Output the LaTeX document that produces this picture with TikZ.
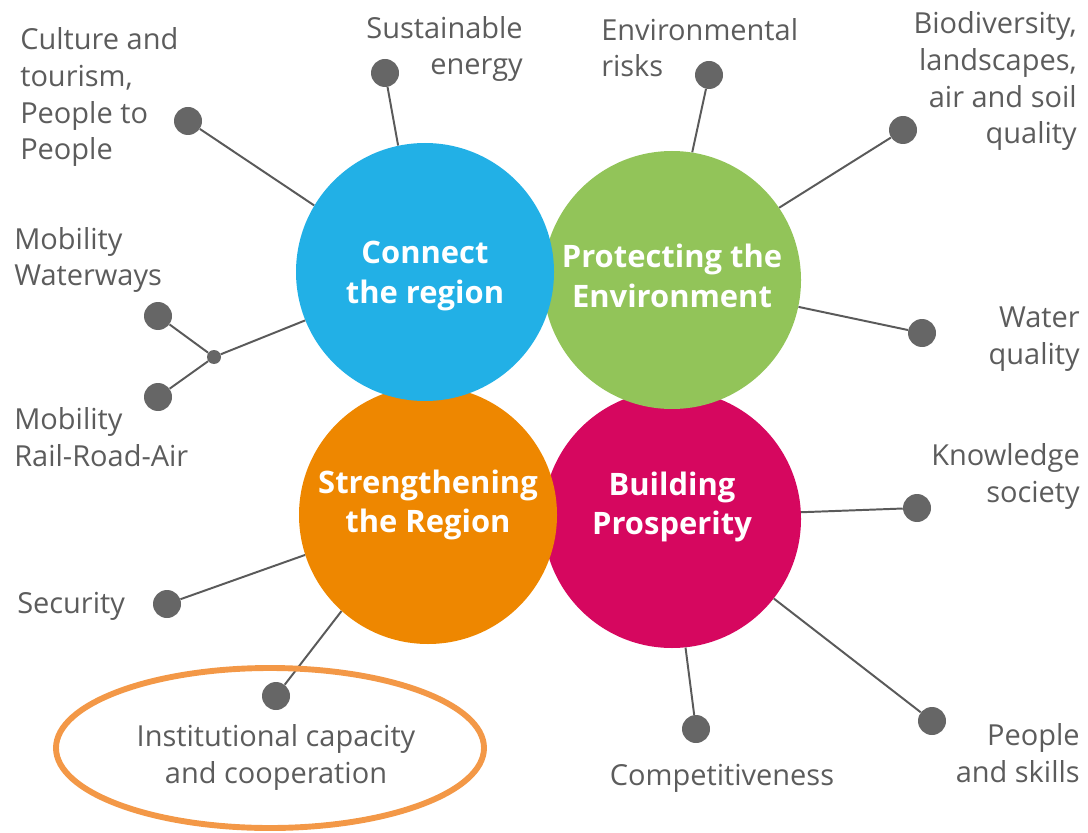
\documentclass[tikz,border=0pt]{standalone}
\usepackage{fontspec}
\setmainfont{Open Sans}
\usepackage{xcolor}
\usepackage{tikz}

\definecolor{connectblue}{HTML}{22B0E6}
\definecolor{envgreen}{HTML}{92C459}
\definecolor{regionorange}{HTML}{EE8700}
\definecolor{prosperpink}{HTML}{D6075F}
\definecolor{dotgray}{HTML}{666666}
\definecolor{linegray}{HTML}{5A5A5A}
\definecolor{labelgray}{HTML}{5C5C5C}
\definecolor{ringorange}{HTML}{F39847}

\tikzset{
  pillar/.style={circle, minimum size=6.45cm, inner sep=0pt},
  pillartext/.style={text=white, font=\fontsize{22}{28.3}\selectfont\bfseries, align=center, inner sep=0pt},
  topicdot/.style={circle, fill=dotgray, minimum size=0.7cm, inner sep=0pt},
  joint/.style={circle, fill=dotgray, minimum size=0.35cm, inner sep=0pt},
  topic/.style={text=labelgray, font=\fontsize{20.6}{26.3}\selectfont, inner sep=0pt},
  link/.style={linegray, line width=1.4pt},
}

\begin{document}
\begin{tikzpicture}
            \useasboundingbox (0,0) rectangle (27.2,20.8);

            % The four pillars
            \node[pillar, fill=prosperpink] (prosper) at (16.8,7.825) {};
            \node[pillar, fill=envgreen] (environment) at (16.8,13.8) {};
            \node[pillar, fill=regionorange] (strengthen) at (10.7,7.925) {};
            \node[pillar, fill=connectblue] (connect) at (10.625,14.0) {};

            \node[pillartext] (connecttxt) at ([yshift=-0.1cm]connect.center) {Connect\\the region};
            \node[pillartext] (environmenttxt) at ([yshift=0.1cm]environment.center) {Protecting the\\Environment};
            \node[pillartext] (strengthentxt) at ([yshift=0.25cm]strengthen.center) {Strengthening\\the Region};
            \node[pillartext] (prospertxt) at ([yshift=0.3cm]prosper.center) {Building\\Prosperity};

            % Connect the region
            \node[topicdot] (energy) at (9.625,18.975) {};
            \node[topicdot] (culture) at (4.7,17.775) {};
            \node[topicdot] (waterways) at (3.95,12.9) {};
            \node[topicdot] (railroad) at (3.95,10.875) {};
            \node[joint] (mobility) at (5.35,11.875) {};
            \draw[link] (energy) -- (connect.102);
            \draw[link] (culture) -- (connect.149);
            \draw[link] (waterways) -- (mobility);
            \draw[link] (railroad) -- (mobility);
            \draw[link] (mobility) -- (connect.202);
            \node[topic, anchor=base east, align=right] (energytxt) at (13.075,18.925) {Sustainable\\energy};
            \node[topic, anchor=base west, align=left] (culturetxt) at (0.5,16.8) {Culture and\\tourism,\\People to\\People};
            \node[topic, anchor=base west, align=left] (waterwaystxt) at (0.35,13.65) {Mobility\\Waterways};
            \node[topic, anchor=base west, align=left] (railroadtxt) at (0.35,9.15) {Mobility\\Rail-Road-Air};

            % Protecting the Environment
            \node[topicdot] (risks) at (17.725,18.925) {};
            \node[topicdot] (biodiv) at (22.575,17.55) {};
            \node[topicdot] (water) at (23.05,12.475) {};
            \draw[link] (risks) -- (environment.81);
            \draw[link] (biodiv) -- (environment.34);
            \draw[link] (water) -- (environment.348);
            \node[topic, anchor=base west, align=left] (riskstxt) at (15.025,18.875) {Environmental\\risks};
            \node[topic, anchor=base east, align=right] (biodivtxt) at (26.925,17.2) {Biodiversity,\\landscapes,\\air and soil\\quality};
            \node[topic, anchor=base east, align=right] (watertxt) at (27.0,11.7) {Water\\quality};

            % Strengthening the Region
            \node[topicdot] (security) at (4.175,5.7) {};
            \node[topicdot] (capacity) at (6.9,3.4) {};
            \draw[link] (security) -- (strengthen.198);
            \draw[link] (capacity) -- (strengthen.228);
            \node[topic, anchor=base west] (securitytxt) at (0.425,5.475) {Security};
            \node[topic, anchor=base, align=center] (capacitytxt) at (6.9,1.225) {Institutional capacity\\and cooperation};
            \draw[ringorange, line width=4.2pt] (6.75,2.1) ellipse (5.35cm and 2cm);

            % Building Prosperity
            \node[topicdot] (knowledge) at (22.925,8.1) {};
            \node[topicdot] (compete) at (17.4,2.575) {};
            \node[topicdot] (skills) at (23.3,2.775) {};
            \draw[link] (knowledge) -- (prosper.3);
            \draw[link] (compete) -- (prosper.276);
            \draw[link] (skills) -- (prosper.322);
            \node[topic, anchor=base east, align=right] (knowledgetxt) at (27.0,8.25) {Knowledge\\society};
            \node[topic, anchor=base] (competetxt) at (18.05,1.175) {Competitiveness};
            \node[topic, anchor=base east, align=right] (skillstxt) at (27.0,1.25) {People\\and skills};

        \end{tikzpicture}
\end{document}
